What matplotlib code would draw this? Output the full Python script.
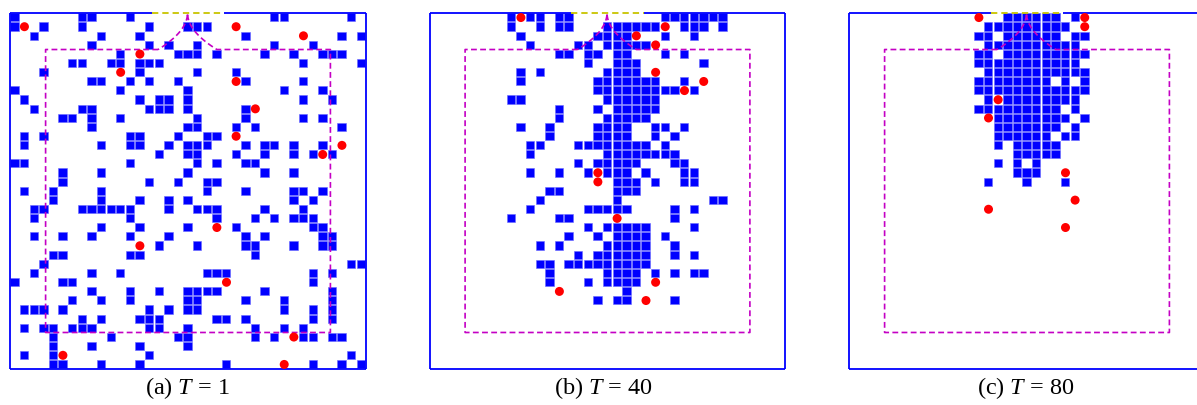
import numpy as np
import matplotlib as mpl

mpl.use("Agg")

import matplotlib.pyplot as plt
from matplotlib.patches import Rectangle

plt.rcParams["font.family"] = "Liberation Serif"
plt.rcParams["mathtext.fontset"] = "custom"
plt.rcParams["mathtext.rm"] = "Liberation Serif"
plt.rcParams["mathtext.it"] = "Liberation Serif:italic"

# ================================
# grid and room geometry (cells)
# ================================
NCOL, NROW = 37, 39
ROOM_X = (3.7, 33.3)          # dashed inner region, columns
ROOM_Y = (4.0, 35.0)          # dashed inner region, rows
NECK_X = (15.4, 21.5)         # where the funnel leaves the dashed line
EXIT_X = (14.75, 22.25)       # exit on the top wall

# ================================
# occupied cells, one list of columns per row (row 0 at top)
# ================================
A_ROWS = [
    [0, 7, 8, 12, 27, 28, 35],
    [0, 3, 7, 14, 18, 19, 20],
    [2, 9, 13, 24, 34, 36],
    [8, 14, 16, 19, 27, 31],
    [11, 17, 18, 19, 21, 26, 29, 32, 33, 34],
    [6, 7, 10, 11, 13, 14, 15, 30, 36],
    [3, 13, 19, 23],
    [8, 9, 12, 14, 17, 24, 30],
    [0, 11, 18, 28, 32],
    [1, 13, 15, 16, 18, 30, 33],
    [2, 7, 8, 14, 15, 16, 18, 24],
    [5, 6, 8, 11, 19, 24, 30, 32],
    [8, 18, 19, 23, 25, 34],
    [1, 3, 12, 13, 17, 20, 21],
    [1, 9, 12, 13, 16, 18, 19, 20, 24, 26, 27, 29, 32],
    [15, 18, 19, 23, 26, 29, 31, 33],
    [0, 1, 12, 19, 21, 24, 25],
    [5, 9, 18, 26, 29],
    [5, 14, 17, 20, 21],
    [1, 4, 9, 20, 24, 29, 30, 32],
    [4, 9, 13, 16, 18, 29, 31],
    [2, 3, 7, 8, 9, 10, 11, 12, 16, 19, 20, 21, 26, 30],
    [2, 12, 21, 25, 27, 29, 30, 31],
    [9, 13, 18, 23, 31, 32],
    [2, 5, 8, 12, 16, 24, 26, 32, 33],
    [15, 19, 24, 25, 29, 32, 33],
    [4, 5, 12, 13, 25],
    [3, 35, 36],
    [2, 8, 11, 20, 21, 22, 31, 33],
    [0, 5, 6, 31],
    [8, 12, 15, 18, 19, 20, 21, 26, 33],
    [6, 9, 12, 18, 19, 24, 28, 33],
    [1, 2, 3, 5, 14, 16, 18, 19, 28, 31, 33],
    [7, 9, 13, 14, 15, 21, 22, 24, 31, 33],
    [1, 3, 4, 6, 7, 8, 14, 15, 18, 25, 28, 30],
    [4, 10, 17, 18, 25, 27, 30, 31, 33, 34],
    [4, 8, 13, 18],
    [1, 4, 14, 35],
    [4, 5, 9, 13, 22, 31, 34, 36],
]
A_RED = [(1, 1), (1, 23), (2, 30), (4, 13), (6, 11), (7, 23), (10, 25), (13, 23),
         (14, 34), (15, 32), (23, 21), (25, 13), (29, 22), (35, 29), (37, 5), (38, 28)]

B_ROWS = [
    [8, 10, 11, 13, 14, 24, 25, 26, 27, 28, 29, 30],
    [8, 11, 13, 14, 18, 19, 20, 21, 22, 23, 26, 27, 28, 30],
    [9, 17, 18, 19, 20, 24, 27],
    [10, 15, 16, 18, 19, 20, 21, 22],
    [13, 14, 16, 17, 19, 20, 24, 26],
    [16, 19, 20, 21, 28],
    [9, 11, 18, 19, 20, 21],
    [9, 17, 18, 19, 20, 21, 22, 23, 26],
    [17, 18, 19, 20, 21, 22, 23, 24, 25, 27],
    [8, 9, 18, 19, 20, 21, 22, 23],
    [13, 17, 19, 20, 21, 22, 23],
    [13, 18, 19, 20, 21, 22],
    [9, 12, 17, 18, 19, 20, 23, 24, 26],
    [12, 17, 18, 19, 20, 23, 25],
    [10, 11, 15, 16, 17, 18, 19, 20, 21, 22, 24],
    [10, 18, 19, 20, 21, 22, 23, 24, 25],
    [15, 17, 18, 19, 20, 21, 25, 26],
    [10, 13, 16, 18, 19, 20, 22, 26, 27],
    [19, 20, 21, 23, 26, 27],
    [12, 13, 19, 20, 21],
    [11, 19, 29, 30],
    [10, 16, 17, 18, 19, 20, 25, 27],
    [8, 13, 14, 25],
    [16, 18, 19, 20, 21, 22, 27],
    [14, 17, 19, 20, 21, 22, 24],
    [11, 13, 18, 19, 20, 21, 22, 25],
    [15, 17, 18, 19, 20, 21, 22, 25, 27],
    [11, 12, 14, 15, 16, 17, 18, 19, 20, 21, 22],
    [12, 18, 19, 20, 21, 23, 25, 27, 28],
    [12, 16, 18, 19, 20, 21],
    [20],
    [17, 19, 20, 25],
]
B_RED = [(0, 9), (1, 24), (2, 21), (3, 23), (6, 23), (7, 28), (8, 26), (17, 17),
         (18, 17), (22, 19), (29, 23), (30, 13), (31, 22)]

C_ROWS = [
    [16, 17, 18, 19, 20, 21, 23],
    [14, 15, 16, 17, 18, 19, 20, 21, 22],
    [13, 14, 16, 17, 18, 19, 20, 21, 23, 24],
    [14, 15, 16, 17, 18, 19, 20, 21, 22, 23],
    [13, 14, 16, 17, 18, 19, 20, 21, 22, 23, 24],
    [13, 14, 15, 16, 17, 18, 19, 20, 21, 22, 23],
    [14, 15, 16, 17, 18, 19, 20, 21, 22, 23, 24],
    [13, 14, 15, 16, 17, 18, 19, 20, 22, 24],
    [13, 14, 15, 16, 17, 18, 19, 20, 21, 22, 23, 24],
    [14, 16, 17, 18, 19, 20, 21, 22, 23],
    [13, 14, 15, 16, 17, 18, 19, 20, 21, 23],
    [15, 16, 17, 18, 19, 20, 21, 22, 24],
    [15, 16, 17, 18, 19, 20, 21, 23],
    [15, 16, 17, 18, 19, 20, 22, 23],
    [15, 17, 18, 19, 20, 21],
    [17, 18, 19, 20, 21],
    [15, 17, 19],
    [17, 18, 19],
    [14, 18, 22],
]
C_RED = [(0, 13), (0, 24), (1, 24), (9, 15), (11, 14), (17, 22), (20, 23), (21, 14), (23, 22)]

LABELS = ["(a) $T$ = 1", "(b) $T$ = 40", "(c) $T$ = 80"]

# ================================
# figure layout (pixels)
# ================================
W, H = 1197, 406
PANEL_X = [10, 429.5, 849]
PANEL_TOP, PANEL_SIZE = 14, 356
LABEL_X = [187, 603, 1026]
LABEL_Y = 388

BLUE = "#0000FF"
RED = "#FF0000"
MAGENTA = "#C400C4"
YELLOW = "#C8C400"

fig = plt.figure(figsize=(W / 100, H / 100), dpi=100)


def draw_panel(ax, rows, reds):
    ax.set_xlim(0, NCOL)
    ax.set_ylim(NROW, 0)
    ax.axis("off")

    for r, cols in enumerate(rows):
        for c in cols:
            ax.add_patch(Rectangle((c + 0.03, r + 0.03), 0.87, 0.89,
                                   facecolor=BLUE, edgecolor="#6A6AFF",
                                   linewidth=0.4, zorder=2))

    # walls, the top one broken by the exit
    wall = dict(color=BLUE, lw=1.3, zorder=5, clip_on=False, solid_capstyle="butt")
    ax.plot([0, 0], [0, NROW], **wall)
    ax.plot([NCOL, NCOL], [0, NROW], **wall)
    ax.plot([0, NCOL], [NROW, NROW], **wall)
    ax.plot([0, EXIT_X[0]], [0, 0], **wall)
    ax.plot([EXIT_X[1], NCOL], [0, 0], **wall)
    ax.plot(EXIT_X, [0, 0], color=YELLOW, lw=1.3, ls=(0, (3.5, 2.2)),
            zorder=5, clip_on=False)

    # dashed region with the funnel up to the exit
    mid = 0.5 * (NECK_X[0] + NECK_X[1])
    half = 0.5 * (NECK_X[1] - NECK_X[0])
    t = np.linspace(1, 0, 30)
    top = ROOM_Y[0]
    xs = [NECK_X[0], ROOM_X[0], ROOM_X[0], ROOM_X[1], ROOM_X[1], NECK_X[1]]
    ys = [top, top, ROOM_Y[1], ROOM_Y[1], top, top]
    xs += list(mid + half * t ** 2)
    ys += list(top * t)
    xs += list(mid - half * t[::-1] ** 2)
    ys += list(top * t[::-1])
    ax.plot(xs, ys, color=MAGENTA, lw=1.2, ls=(0, (3.5, 2.0)), zorder=3)

    ry, rx = zip(*reds)
    ax.scatter(np.array(rx) + 0.5, np.array(ry) + 0.5, s=42, color=RED,
               edgecolors="none", zorder=6)


for x0, rows, reds, label, lx in zip(PANEL_X, [A_ROWS, B_ROWS, C_ROWS],
                                     [A_RED, B_RED, C_RED], LABELS, LABEL_X):
    ax = fig.add_axes([x0 / W, (H - PANEL_TOP - PANEL_SIZE) / H,
                       PANEL_SIZE / W, PANEL_SIZE / H])
    draw_panel(ax, rows, reds)
    fig.text(lx / W, 1 - LABEL_Y / H, label, ha="center", va="center", fontsize=17.5)

fig.savefig("out.png", dpi=100)
plt.close(fig)
